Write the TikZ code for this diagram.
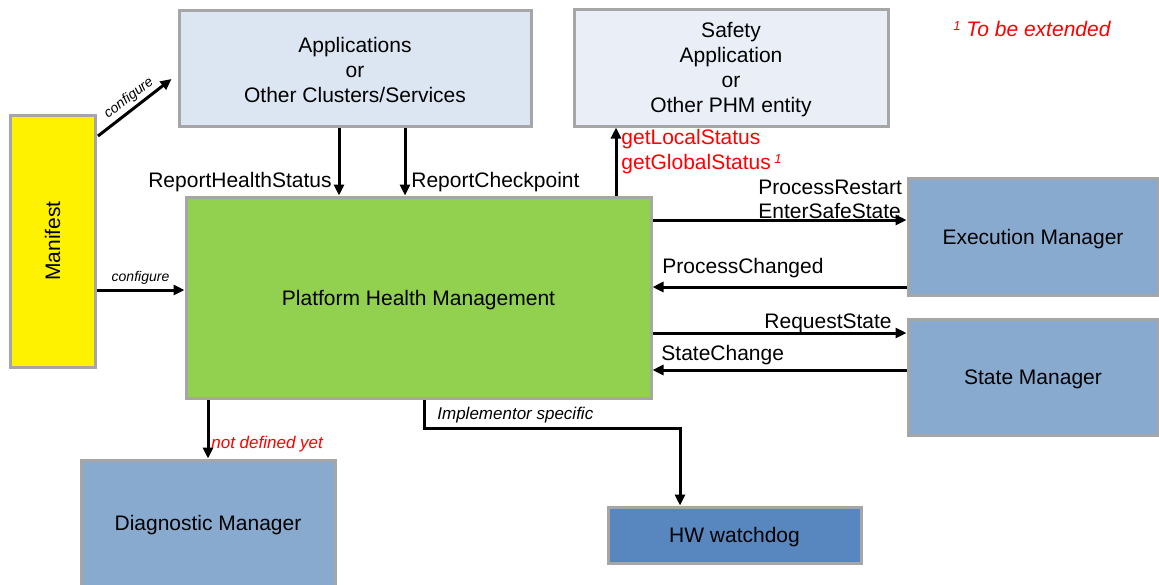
\documentclass[tikz,border=0pt]{standalone}
\usepackage{fontspec}
\setmainfont{Liberation Sans}
\usetikzlibrary{arrows.meta}
\definecolor{bordergray}{HTML}{A6A6A6}
\definecolor{appfill}{HTML}{DCE6F2}
\definecolor{safefill}{HTML}{E9EEF7}
\definecolor{phmgreen}{HTML}{92D050}
\definecolor{mgrblue}{HTML}{89AACF}
\definecolor{hwblue}{HTML}{5886BF}
\definecolor{redtxt}{HTML}{FF0000}
\tikzset{
  box/.style={draw=bordergray, line width=1.5pt, inner sep=0pt, align=center,
    font=\fontsize{10.5}{12.5}\selectfont},
  boxtext/.style={inner sep=0pt, align=center, yshift=-1.2pt,
    font=\fontsize{10.5}{12.5}\selectfont},
  arr/.style={line width=1.5pt, -{Triangle[length=5.5pt,width=5pt]}},
  lbl/.style={inner sep=0pt, yshift=-1pt, font=\fontsize{10.5}{12.5}\selectfont},
  rlbl/.style={lbl, text=redtxt},
  smalli/.style={inner sep=1pt, font=\fontsize{7}{8}\selectfont\itshape},
  midi/.style={inner sep=0pt, yshift=-0.5pt, font=\fontsize{8.5}{10}\selectfont\itshape},
}
\begin{document}
\begin{tikzpicture}[x=0.5pt, y=-0.5pt]
\useasboundingbox (0,0) rectangle (1159,584);
% boxes
\node[box, fill=yellow, minimum width=42.5pt, minimum height=126pt] (man) at (52.5,241) {};
\node[rotate=90, inner sep=0pt, font=\fontsize{10.5}{12.5}\selectfont] (mantxt) at (man.center) {Manifest};
\node[box, fill=appfill, minimum width=176pt, minimum height=58pt] (apps) at (355,68) {};
\node[boxtext] (appst) at (apps.center) {Applications\\or\\Other Clusters/Services};
\node[box, fill=safefill, minimum width=157pt, minimum height=58.5pt] (safe) at (731,67.5) {};
\node[boxtext] (safet) at (safe.center) {Safety\\Application\\or\\Other PHM entity};
\node[box, fill=phmgreen, minimum width=232.5pt, minimum height=100.5pt] (phm) at (418.5,297.5) {};
\node[boxtext] (phmt) at (phm.center) {Platform Health Management};
\node[box, fill=mgrblue, minimum width=125pt, minimum height=58.5pt] (exec) at (1033,236.5) {};
\node[boxtext] (exect) at (exec.center) {Execution Manager};
\node[box, fill=mgrblue, minimum width=125pt, minimum height=58pt] (state) at (1033,377) {};
\node[boxtext] (statet) at (state.center) {State Manager};
\node[box, fill=mgrblue, minimum width=127pt, minimum height=63pt] (diag) at (208,523) {};
\node[boxtext] (diagt) at (diag.center) {Diagnostic Manager};
\node[box, fill=hwblue, minimum width=126.5pt, minimum height=28pt] (hw) at (734.5,535) {};
\node[boxtext] (hwt) at (hw.center) {HW watchdog};
% manifest connectors
\coordinate (cfgA) at (98,136);
\draw[arr] (cfgA) -- ([xshift=-3pt]apps.west |- 0,79);
\node[smalli, rotate=37, inner sep=0pt] (cfg1) at (129,98) {configure};
\draw[arr] (man.east |- 0,290) -- node[midway, above, smalli, yshift=1pt] {configure} (phm.west |- 0,290);
% apps -> phm
\draw[arr] (apps.south -| 339,0) -- (phm.north -| 339,0);
\draw[arr] (apps.south -| 405,0) -- (phm.north -| 405,0);
\node[lbl, anchor=east] (rhs) at (332,180) {ReportHealthStatus};
\node[lbl, anchor=west] (rcp) at (411,180) {ReportCheckpoint};
% phm -> safety
\draw[arr] (phm.north -| 616,0) -- (safe.south -| 616,0);
\node[rlbl, anchor=west] (gls) at (621,137) {getLocalStatus};
\node[rlbl, anchor=west] (ggs) at (621,162) {getGlobalStatus\,\raisebox{0.5ex}{\fontsize{6.5}{7}\selectfont\itshape 1}};
% exec manager
\draw[arr] (phm.east |- 0,220) -- (exec.west |- 0,220);
\node[lbl, anchor=west] (prs) at (758,185) {ProcessRestart};
\node[lbl, anchor=west] (ess) at (758,209) {EnterSafeState};
\draw[arr] (exec.west |- 0,287) -- (phm.east |- 0,287);
\node[lbl, anchor=west] (pch) at (662,266) {ProcessChanged};
% state manager
\draw[arr] (phm.east |- 0,333) -- (state.west |- 0,333);
\node[lbl, anchor=west] (rqs) at (764,321) {RequestState};
\draw[arr] (state.west |- 0,370) -- (phm.east |- 0,370);
\node[lbl, anchor=west] (stc) at (661,353) {StateChange};
% diag
\draw[arr] (phm.south -| 208,0) -- (diag.north -| 208,0);
\node[midi, anchor=west, text=redtxt] (ndy) at (211,443) {not defined yet};
% hw watchdog
\draw[arr] (phm.south -| 424,0) |- (680,428) -- (hw.north -| 680,0);
\node[midi, anchor=west] (imp) at (437,414) {Implementor specific};
% footnote
\node[anchor=west, inner sep=0pt, text=redtxt, font=\fontsize{10.5}{12.5}\selectfont\itshape] (fn) at (953,29)
  {\raisebox{0.5ex}{\fontsize{6.5}{7}\selectfont 1}\ To be extended};
\end{tikzpicture}
\end{document}
